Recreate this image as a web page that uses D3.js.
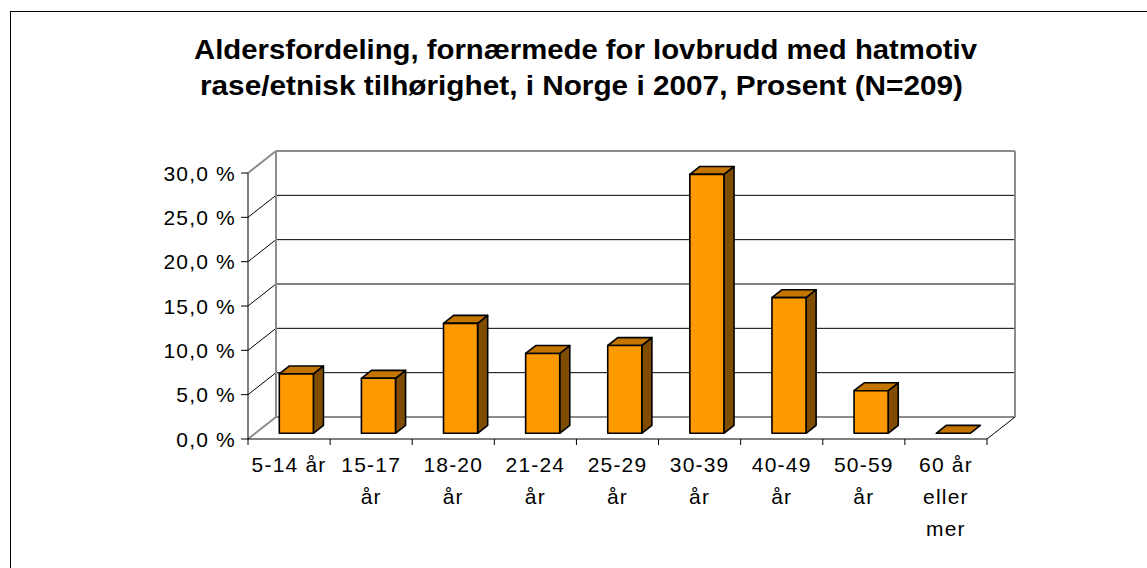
<!DOCTYPE html>
<html>
<head>
<meta charset="utf-8">
<script src="https://cdn.jsdelivr.net/npm/d3@7"></script>
<style>
  body { margin: 0; background: #fff; }
  text { font-family: "Liberation Sans", Arial, sans-serif; }
</style>
</head>
<body>
<div id="chart"></div>
<script>
const categories = ["5-14 år", "15-17\når", "18-20\når", "21-24\når", "25-29\når", "30-39\når", "40-49\når", "50-59\når", "60 år\neller\nmer"];
const values = [6.7, 6.2, 12.4, 9.0, 9.9, 29.2, 15.3, 4.8, 0];
const yTicks = [0, 5, 10, 15, 20, 25, 30];
const titleLines = ["Aldersfordeling, fornærmede for lovbrudd med hatmotiv",
                    "rase/etnisk tilhørighet, i Norge i 2007, Prosent (N=209)"];

const FRONT = "#FF9900";
const SIDE = "#7F4C00";
const TOP = "#C47500";
const EDGE = "#8c8c8c";

let width = 1147;
let height = 568;

// depth of the 3d box
const DX = 28, DY = -22;

let svg = d3.select("#chart")
            .append("svg")
            .attr("width", width)
            .attr("height", height);

// outer frame (runs off the right and bottom)
svg.append("rect")
   .attr("x", 10.5).attr("y", 11.5)
   .attr("width", 1200).attr("height", 600)
   .attr("fill", "none").attr("stroke", "#000");

const titlePos = [{x: 585.5, y: 59, w: 783}, {x: 581.5, y: 95, w: 763}];
svg.append("g")
   .selectAll("text")
   .data(titleLines)
   .enter()
   .append("text")
   .attr("x", (d, i) => titlePos[i].x)
   .attr("y", (d, i) => titlePos[i].y)
   .attr("text-anchor", "middle")
   .attr("font-size", "27px")
   .attr("font-weight", "bold")
   .attr("textLength", (d, i) => titlePos[i].w)
   .attr("lengthAdjust", "spacingAndGlyphs")
   .text(d => d);

let x = d3.scaleBand().domain(categories).range([248, 987]);
let y = d3.scaleLinear().domain([0, 30]).range([439, 173]);

let grid = svg.append("g");

// back wall gridlines and diagonals on the side wall
yTicks.forEach(function (t) {
  let edge = (t === 0 || t === 30);
  grid.append("line")
      .attr("x1", 248).attr("y1", y(t))
      .attr("x2", 248 + DX).attr("y2", y(t) + DY)
      .attr("stroke", edge ? EDGE : "#000")
      .attr("stroke-width", edge ? 2 : 1);
  grid.append("line")
      .attr("x1", 248 + DX).attr("y1", y(t) + DY)
      .attr("x2", 987 + DX).attr("y2", y(t) + DY)
      .attr("stroke", edge ? EDGE : "#000")
      .attr("stroke-width", edge ? 2 : 1);
});

// wall edges
grid.append("line")
    .attr("x1", 248 + DX).attr("y1", y(0) + DY)
    .attr("x2", 248 + DX).attr("y2", y(30) + DY)
    .attr("stroke", EDGE).attr("stroke-width", 2);
grid.append("line")
    .attr("x1", 987 + DX).attr("y1", y(0) + DY)
    .attr("x2", 987 + DX).attr("y2", y(30) + DY)
    .attr("stroke", EDGE).attr("stroke-width", 2);
grid.append("line")
    .attr("x1", 987).attr("y1", y(0))
    .attr("x2", 987 + DX).attr("y2", y(0) + DY)
    .attr("stroke", "#000").attr("stroke-width", 1);

// bars
const f1 = 0.26, f2 = 0.62;
const bw = x.bandwidth() * 0.415;
let bars = svg.append("g")
              .attr("stroke", "#000")
              .attr("stroke-width", 1.6)
              .attr("stroke-linejoin", "round");

categories.forEach(function (c, i) {
  let x0 = x(c) + (x.bandwidth() - bw) / 2 + f1 * DX;
  let x1 = x0 + bw;
  let yb = y(0) + f1 * DY;
  let yt = y(values[i]) + f1 * DY;
  let ddx = (f2 - f1) * DX, ddy = (f2 - f1) * DY;
  // side
  if (values[i] > 0) {
    bars.append("path")
        .attr("d", `M${x1},${yb}L${x1 + ddx},${yb + ddy}L${x1 + ddx},${yt + ddy}L${x1},${yt}Z`)
        .attr("fill", SIDE);
  }
  // top
  bars.append("path")
      .attr("d", `M${x0},${yt}L${x1},${yt}L${x1 + ddx},${yt + ddy}L${x0 + ddx},${yt + ddy}Z`)
      .attr("fill", TOP);
  // front
  if (values[i] > 0) {
    bars.append("rect")
        .attr("x", x0).attr("y", yt)
        .attr("width", bw).attr("height", yb - yt)
        .attr("fill", FRONT);
  }
});

// y axis
let yAxis = svg.append("g");
yAxis.append("line")
     .attr("x1", 248).attr("y1", y(0))
     .attr("x2", 248).attr("y2", y(30))
     .attr("stroke", "#000");
yAxis.selectAll(".tick")
     .data(yTicks)
     .enter()
     .append("line")
     .attr("x1", 241).attr("x2", 248)
     .attr("y1", d => y(d)).attr("y2", d => y(d))
     .attr("stroke", "#000");
yAxis.selectAll("text")
     .data(yTicks)
     .enter()
     .append("text")
     .attr("x", 236)
     .attr("y", d => y(d) + 7.5)
     .attr("text-anchor", "end")
     .attr("font-size", "21px")
     .attr("letter-spacing", "1.2px")
     .text(d => d3.format(".1f")(d).replace(".", ",") + " %");

// x axis
let xAxis = svg.append("g");
xAxis.append("line")
     .attr("x1", 248).attr("y1", y(0))
     .attr("x2", 987).attr("y2", y(0))
     .attr("stroke", "#000");
xAxis.selectAll("line.tick")
     .data(categories.concat(["end"]))
     .enter()
     .append("line")
     .attr("class", "tick")
     .attr("x1", (d, i) => 248 + i * x.step())
     .attr("x2", (d, i) => 248 + i * x.step())
     .attr("y1", y(0)).attr("y2", y(0) + 6)
     .attr("stroke", "#000");

let labels = xAxis.selectAll("text")
     .data(categories)
     .enter()
     .append("text")
     .attr("text-anchor", "middle")
     .attr("font-size", "21px")
     .attr("letter-spacing", "1.2px");

labels.each(function (d) {
  let t = d3.select(this);
  d.split("\n").forEach(function (line, j) {
    t.append("tspan")
     .attr("x", x(d) + x.bandwidth() / 2)
     .attr("y", 472 + j * 32)
     .text(line);
  });
});
</script>
</body>
</html>
